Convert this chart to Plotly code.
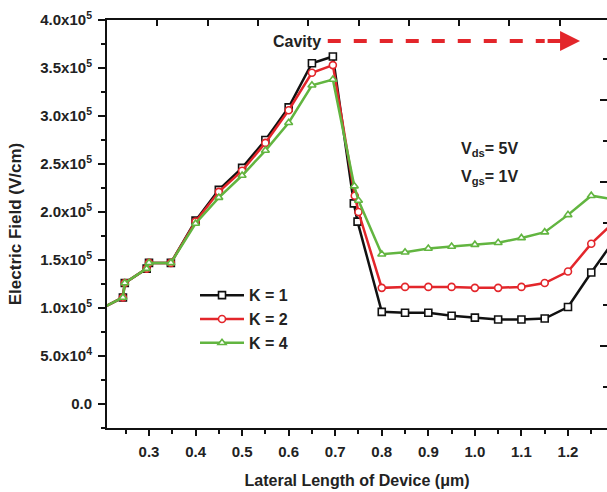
import plotly.graph_objects as go

# ---- data ----
x_k1 = [0.20, 0.244, 0.248, 0.295, 0.300, 0.347, 0.40, 0.45, 0.50, 0.55, 0.60, 0.65, 0.695,
        0.740, 0.748, 0.80, 0.85, 0.90, 0.95, 1.00, 1.05, 1.10, 1.15, 1.20, 1.25, 1.30]
y_k1 = [1.00e5, 1.11e5, 1.26e5, 1.41e5, 1.47e5, 1.47e5, 1.91e5, 2.23e5, 2.46e5, 2.75e5, 3.09e5, 3.55e5, 3.62e5,
        2.09e5, 1.90e5, 0.96e5, 0.95e5, 0.95e5, 0.92e5, 0.90e5, 0.88e5, 0.88e5, 0.89e5, 1.01e5, 1.37e5, 1.71e5]

x_k2 = [0.20, 0.244, 0.248, 0.295, 0.300, 0.347, 0.40, 0.45, 0.50, 0.55, 0.60, 0.65, 0.695,
        0.742, 0.750, 0.80, 0.85, 0.90, 0.95, 1.00, 1.05, 1.10, 1.15, 1.20, 1.25, 1.30]
y_k2 = [1.00e5, 1.11e5, 1.26e5, 1.41e5, 1.47e5, 1.47e5, 1.90e5, 2.21e5, 2.43e5, 2.72e5, 3.06e5, 3.45e5, 3.53e5,
        2.17e5, 2.00e5, 1.21e5, 1.22e5, 1.22e5, 1.22e5, 1.21e5, 1.21e5, 1.22e5, 1.26e5, 1.38e5, 1.67e5, 1.90e5]

x_k4 = [0.20, 0.244, 0.248, 0.295, 0.300, 0.347, 0.40, 0.45, 0.50, 0.55, 0.60, 0.65, 0.695,
        0.741, 0.750, 0.80, 0.85, 0.90, 0.95, 1.00, 1.05, 1.10, 1.15, 1.20, 1.25, 1.30]
y_k4 = [1.00e5, 1.11e5, 1.26e5, 1.41e5, 1.47e5, 1.47e5, 1.88e5, 2.15e5, 2.38e5, 2.64e5, 2.93e5, 3.32e5, 3.38e5,
        2.27e5, 2.12e5, 1.56e5, 1.58e5, 1.62e5, 1.64e5, 1.66e5, 1.68e5, 1.73e5, 1.79e5, 1.97e5, 2.17e5, 2.13e5]

y_tickvals = [0, 0.5e5, 1.0e5, 1.5e5, 2.0e5, 2.5e5, 3.0e5, 3.5e5, 4.0e5]
y_ticktext = ["0.0", "5.0x10<sup>4</sup>", "1.0x10<sup>5</sup>", "1.5x10<sup>5</sup>",
              "2.0x10<sup>5</sup>", "2.5x10<sup>5</sup>", "3.0x10<sup>5</sup>",
              "3.5x10<sup>5</sup>", "4.0x10<sup>5</sup>"]
x_tickvals = [0.3, 0.4, 0.5, 0.6, 0.7, 0.8, 0.9, 1.0, 1.1, 1.2]
x_ticktext = ["0.3", "0.4", "0.5", "0.6", "0.7", "0.8", "0.9", "1.0", "1.1", "1.2"]

BLACK = "#111111"
RED = "#e3262b"
GREEN = "#62b540"
FONT = "Liberation Sans, Arial, sans-serif"

fig = go.Figure()

def add_series(x, y, name, color, symbol):
    fig.add_trace(go.Scatter(
        x=x, y=y, name=name, mode="lines+markers",
        line=dict(color=color, width=2.5),
        marker=dict(symbol=symbol, size=7, color="white",
                    line=dict(color=color, width=1.6)),
    ))

add_series(x_k1, y_k1, "K = 1", BLACK, "square")
add_series(x_k2, y_k2, "K = 2", RED, "circle")
add_series(x_k4, y_k4, "K = 4", GREEN, "triangle-up")

# dummy trace to activate the frame axes (top / right)
fig.add_trace(go.Scatter(x=[None], y=[None], xaxis="x2", yaxis="y2",
                         showlegend=False, hoverinfo="skip"))

tickfont = dict(family=FONT, size=15, color="#222222", weight="bold")

fig.update_layout(
    width=607, height=492,
    margin=dict(l=107, r=0, t=20, b=64),
    paper_bgcolor="white", plot_bgcolor="white",
    font=dict(family=FONT, color="#222222"),
    showlegend=True,
    legend=dict(x=0.176, y=0.367, xanchor="left", yanchor="top",
                bgcolor="rgba(0,0,0,0)", borderwidth=0,
                font=dict(family=FONT, size=16, color="#222222", weight="bold"),
                itemwidth=44, tracegroupgap=0),
    xaxis=dict(range=[0.2098, 1.2838], showgrid=False, zeroline=False,
               showline=True, linecolor=BLACK, linewidth=2,
               tickmode="array", tickvals=x_tickvals, ticktext=x_ticktext,
               ticks="outside", ticklen=6, tickwidth=1.5, tickcolor=BLACK,
               minor=dict(ticks="outside", ticklen=4, tickwidth=1.5, tickcolor=BLACK,
                          tick0=0.0, dtick=0.05),
               tickfont=tickfont, ticklabelstandoff=3,
               title=dict(text="Lateral Length of Device (\u03bcm)", standoff=16,
                          font=dict(family=FONT, size=16, color="#222222", weight="bold"))),
    yaxis=dict(range=[-25000, 400000], showgrid=False, zeroline=False,
               showline=True, linecolor=BLACK, linewidth=2,
               tickmode="array", tickvals=y_tickvals, ticktext=y_ticktext,
               ticks="outside", ticklen=7, tickwidth=1.5, tickcolor=BLACK,
               minor=dict(ticks="outside", ticklen=4, tickwidth=1.5, tickcolor=BLACK,
                          tick0=0, dtick=25000),
               tickfont=tickfont, ticklabelstandoff=3,
               title=dict(text="Electric Field (V/cm)", standoff=14,
                          font=dict(family=FONT, size=17, color="#222222", weight="bold"))),
    xaxis2=dict(overlaying="x", side="top", range=[0, 9.94], showgrid=False,
                zeroline=False, showline=True, linecolor=BLACK, linewidth=2,
                tickmode="linear", tick0=0, dtick=1, ticks="inside", ticklen=6,
                tickwidth=1.5, tickcolor=BLACK, showticklabels=False),
    yaxis2=dict(overlaying="y", side="right", range=[0, 9.95], showgrid=False,
                zeroline=False, showline=False,
                tickmode="linear", tick0=0, dtick=2, ticks="inside", ticklen=7,
                tickwidth=1.5, tickcolor=BLACK, showticklabels=False,
                minor=dict(ticks="inside", ticklen=4, tickwidth=1.5, tickcolor=BLACK,
                           tick0=0, dtick=1)),
)

annot_font = dict(family=FONT, size=16, color="#222222", weight="bold")

# Cavity label and dashed arrow
fig.add_annotation(x=0.618, y=3.78e5, xref="x", yref="y", text="Cavity",
                   showarrow=False, font=annot_font)
fig.add_shape(type="line", xref="x", yref="y", x0=0.684, x1=1.15, y0=3.78e5, y1=3.78e5,
              line=dict(color=RED, width=4, dash="13px,13px"))
fig.add_annotation(x=1.226, y=3.78e5, xref="x", yref="y", ax=-34, ay=0, text="",
                   showarrow=True, arrowhead=2, arrowsize=1.0, arrowwidth=4,
                   arrowcolor=RED)

# Bias labels
fig.add_annotation(x=1.032, y=2.65e5, xref="x", yref="y",
                   text="V<sub>ds</sub>= 5V", showarrow=False, font=annot_font)
fig.add_annotation(x=1.032, y=2.36e5, xref="x", yref="y",
                   text="V<sub>gs</sub>= 1V", showarrow=False, font=annot_font)

fig.write_html("out.html")
